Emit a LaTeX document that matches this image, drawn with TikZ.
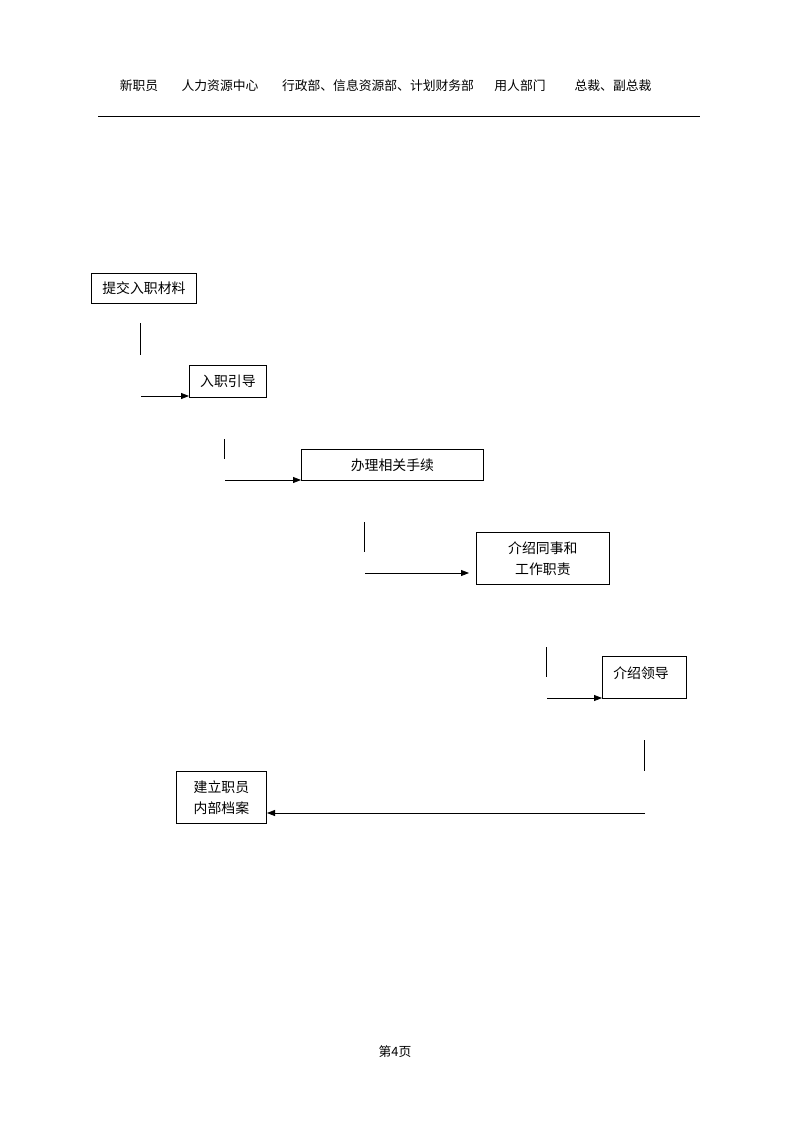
\documentclass[tikz,border=0pt]{standalone}
\usepackage{fontspec}
\setmainfont{Noto Sans CJK SC}
\usetikzlibrary{arrows.meta}
\begin{document}
\begin{tikzpicture}[x=0.75pt,y=-0.75pt,
  every node/.style={font=\fontsize{9.6}{15.5}\selectfont, inner sep=0pt},
  box/.style={draw, line width=0.6pt, anchor=north west, align=center, font=\fontsize{10.4}{15.5}\selectfont},
  ln/.style={line width=0.6pt},
  arr/.style={line width=0.6pt, -{Triangle[length=6pt,width=4.5pt]}}]
\useasboundingbox (0,0) rectangle (794,1123);
% header
\node (h1) at (139,86) {新职员};
\node (h2) at (220,86) {人力资源中心};
\node (h3) at (378,86) {行政部、信息资源部、计划财务部};
\node (h4) at (520,86) {用人部门};
\node (h5) at (613,86) {总裁、副总裁};
\coordinate (hl1) at (98,116);
\coordinate (hl2) at (700,116);
\draw[line width=0.7pt] (hl1) -- (hl2);
% boxes
\node[box, minimum width=105*0.75pt, minimum height=30*0.75pt] (b1) at (91,273) {提交入职材料};
\node[box, minimum width=77*0.75pt, minimum height=32*0.75pt] (b2) at (189,365) {入职引导};
\node[box, minimum width=182*0.75pt, minimum height=31*0.75pt] (b3) at (301,449) {办理相关手续};
\node[box, minimum width=133*0.75pt, minimum height=52*0.75pt] (b4) at (476,532) {介绍同事和\\工作职责};
\node[box, minimum width=84*0.75pt, minimum height=42*0.75pt] (b5) at (602,656) {};
\node[font=\fontsize{10.4}{15.5}\selectfont] (b5t) at (641,673) {介绍领导};
\node[box, minimum width=90*0.75pt, minimum height=52*0.75pt] (b6) at (176,771) {建立职员\\内部档案};
% vertical stubs
\coordinate (v1a) at (140,323); \coordinate (v1b) at (140,355);
\coordinate (v2a) at (224,439); \coordinate (v2b) at (224,459);
\coordinate (v3a) at (364,522); \coordinate (v3b) at (364,552);
\coordinate (v4a) at (546,647); \coordinate (v4b) at (546,677);
\coordinate (v5a) at (644,740); \coordinate (v5b) at (644,771);
\foreach \v in {1,...,5} {\draw[ln] (v\v a) -- (v\v b);}
% arrows
\coordinate (a1) at (141,396);
\draw[arr] (a1) -- (a1 -| b2.west);
\coordinate (a2) at (225,480);
\draw[arr] (a2) -- (a2 -| b3.west);
\coordinate (a3) at (365,573);
\coordinate (a3e) at (469,573);
\draw[arr] (a3) -- (a3e);
\coordinate (a4) at (547,698);
\draw[arr] (a4) -- (a4 -| b5.west);
\coordinate (a5) at (645,813);
\coordinate (a5e) at (267,813);
\draw[arr] (a5) -- (a5e);
% footer
\node (ft) at (395,1052) {第4页};
\end{tikzpicture}
\end{document}
